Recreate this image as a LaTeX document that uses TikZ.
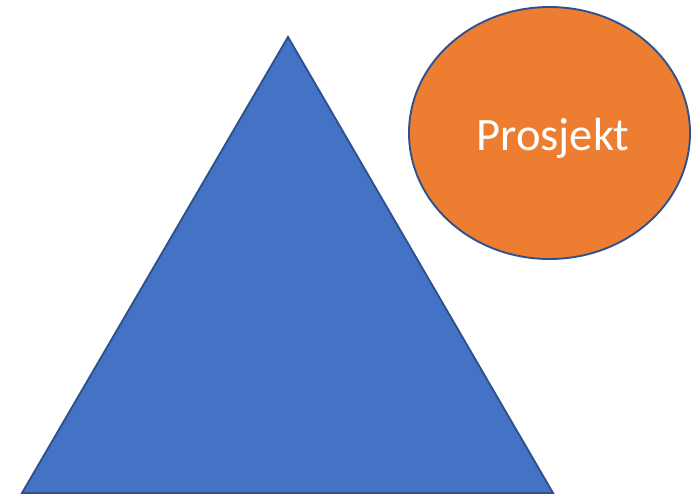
\documentclass[tikz,border=0pt]{standalone}
\usepackage{fontspec}
\setmainfont{Carlito}
\usepackage{tikz}
\usetikzlibrary{positioning, calc}
\usetikzlibrary{shapes.geometric}
\definecolor{triblue}{HTML}{4472C4}
\definecolor{projorange}{HTML}{ED7D31}
\definecolor{edgeblue}{HTML}{2F528F}

\begin{document}
\begin{tikzpicture}[x=1pt,y=-1pt]
 	\tikzstyle{tri-shape}=[fill=triblue,draw=edgeblue,line width=1.9pt,line join=miter]
 	\tikzstyle{p-node}=[ellipse,fill=projorange,draw=edgeblue,line width=1.9pt,inner sep=0pt,minimum width=281pt,minimum height=252pt]
 	\tikzstyle{p-text}=[text=white,font=\fontsize{46.5}{50}\selectfont,anchor=base,inner sep=0pt]
 	% page
 	\useasboundingbox (0,0) rectangle (692,495);
	
 	% triangle
 	\coordinate (apex)	at (288,37);
 	\coordinate (left)	at (22,493);
 	\coordinate (right)	at (553,493);
 	\draw[tri-shape] (apex) -- (left) -- (right) -- cycle;
	
 	% project
 	\node[p-node] 	(proj)	at (549.5,133)	{};
 	\node[p-text] 	(proj-label)	at (553,150)	{Prosjekt};
 \end{tikzpicture}
\end{document}
